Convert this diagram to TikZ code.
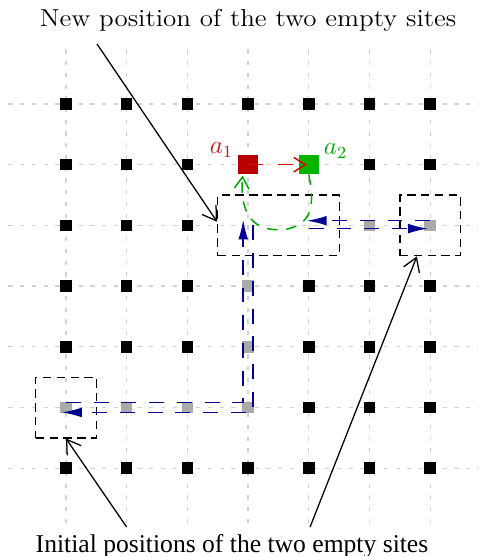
\documentclass[tikz,border=0pt]{standalone}
\usepackage{fontspec}
\newfontfamily\timesfont{Liberation Serif}
\usetikzlibrary{arrows.meta}
\definecolor{gridgray}{RGB}{210,210,210}
\definecolor{sqgray}{RGB}{170,170,170}
\definecolor{sqred}{RGB}{185,0,0}
\definecolor{linered}{RGB}{225,0,0}
\definecolor{lblred}{RGB}{195,25,25}
\definecolor{sqgreen}{RGB}{0,180,0}
\definecolor{linegreen}{RGB}{0,170,0}
\definecolor{navyb}{RGB}{0,0,145}
\begin{document}
\begin{tikzpicture}[
  gridline/.style={gridgray, line width=0.6pt, dash pattern=on 2pt off 3.5pt},
  site/.style={fill=black, draw=none, minimum size=0.19cm, inner sep=0pt, outer sep=0pt},
  vacsite/.style={fill=sqgray, draw=none, minimum size=0.19cm, inner sep=0pt, outer sep=0pt},
  bigsite/.style={draw=none, minimum size=0.32cm, inner sep=0pt, outer sep=0pt},
  dbox/.style={draw=black, line width=0.6pt, dash pattern=on 4pt off 2.5pt, minimum size=1cm, inner sep=0pt},
  bluepath/.style={navyb, line width=0.75pt, dash pattern=on 7pt off 6pt},
  bluetip/.style={-{Latex[length=3.3mm,width=1.6mm]}},
  callout/.style={black, line width=0.6pt, -{Straight Barb[length=2.2mm,width=2.8mm]}},
  swaptip/.style={-{Straight Barb[length=1.9mm,width=2.4mm]}}
]
\useasboundingbox (-1.087,-7.446) rectangle (6.787,1.713);
% grid
\foreach \i in {0,...,6} {
  \draw[gridline] (-0.95,-\i) -- (6.85,-\i);
  \draw[gridline] (\i,0.9) -- (\i,-6.9);
}
% black sites
\foreach \c/\r in {0/0,1/0,2/0,3/0,4/0,5/0,6/0,
                   0/1,1/1,2/1,5/1,6/1,
                   0/2,1/2,2/2,
                   0/3,1/3,2/3,4/3,5/3,6/3,
                   0/4,1/4,2/4,4/4,5/4,6/4,
                   4/5,5/5,6/5,
                   0/6,1/6,2/6,3/6,4/6,5/6,6/6}
  \node[site] (s\c\r) at (\c,-\r) {};
% grey (vacated) sites
\foreach \c/\r in {5/2,6/2,3/3,3/4,3/5,2/5,1/5,0/5}
  \node[vacsite] (s\c\r) at (\c,-\r) {};
% empty sites
\coordinate (e32) at (3,-2);
\coordinate (e42) at (4,-2);
% dashed boxes
\node[dbox, minimum width=2cm] (boxnew) at (3.5,-2) {};
\node[dbox] (boxr) at (6,-2) {};
\node[dbox] (boxl) at (0,-5) {};
% coloured sites
\node[bigsite, fill=sqred] (a1) at (3,-1) {};
\node[bigsite, fill=sqgreen] (a2) at (4,-1) {};
\node[text=lblred, font=\fontsize{12}{14}\selectfont] (la1) at (2.56,-0.76) {$a_1$};
\node[text=linegreen, font=\fontsize{12}{14}\selectfont] (la2) at (4.44,-0.78) {$a_2$};
% blue paths, row 2
\draw[bluepath, bluetip] ([yshift=2.2pt]s62.center) -- ([xshift=-1pt,yshift=2.2pt]e42);
\draw[bluepath, bluetip] ([yshift=-1.5pt]e42) -- ([xshift=-1pt,yshift=-1.5pt]s62.center);
% blue paths, L shape
\coordinate (cin) at ([xshift=-2.3pt,yshift=2.3pt]s35.center);
\coordinate (cout) at ([xshift=2.3pt,yshift=-2.3pt]s35.center);
\draw[bluepath, bluetip] ([yshift=2.3pt]s05.center) -- (cin) -- ([xshift=-2.3pt,yshift=2.8pt]e32);
\draw[bluepath, bluetip] ([xshift=2.3pt,yshift=0pt]e32) -- (cout) -- ([xshift=-2pt,yshift=-2.3pt]s05.center);
% green curve
\draw[linegreen, line width=0.7pt, dash pattern=on 5pt off 4pt, swaptip]
  (a2.south) .. controls (4.08,-1.6) and (4.1,-1.95) .. (3.65,-2.06)
  .. controls (3.2,-2.12) and (2.85,-1.95) .. (2.91,-1.18);
% red arrow
\draw[linered, line width=0.7pt, dash pattern=on 7pt off 7pt, swaptip] (a1.center) -- ([xshift=-1pt]a2.center);
% texts
\node[font=\fontsize{11.5}{13}\selectfont] (tnew) at (3.0,1.37) {\scalebox{1.1}[1]{New position of the two empty sites}};
\node[font=\fontsize{12}{14}\selectfont\timesfont] (tinit) at (2.735,-7.28) {Initial positions of the two empty sites};
\coordinate (tnewfoot) at (0.51,0.99);
\coordinate (tinitl) at (1.0,-6.97);
\coordinate (tinitr) at (4.02,-6.97);
\draw[callout] (tnewfoot) -- ([yshift=0.06cm]boxnew.west);
\draw[callout] (tinitl) -- (boxl.south);
\draw[callout] (tinitr) -- ([xshift=-0.22cm]boxr.south);
\end{tikzpicture}
\end{document}
